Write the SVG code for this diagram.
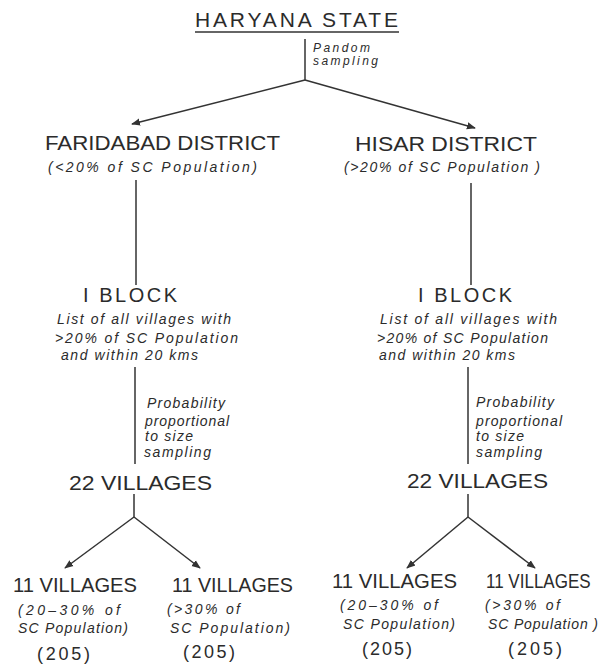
<svg xmlns="http://www.w3.org/2000/svg" width="610" height="666" viewBox="0 0 610 666">
<defs>
<marker id="ah" viewBox="0 0 10 10" refX="9" refY="5" markerWidth="9" markerHeight="9" markerUnits="userSpaceOnUse" orient="auto">
<path d="M0,1 L10,5 L0,9 Z" fill="#333"/>
</marker>
<style>
.t{font-family:"Liberation Sans","DejaVu Sans",sans-serif;fill:#2b2b2b;}
.h{font-size:21px;}
.s{font-size:14px;font-style:italic;}
.n{font-size:18px;}
.c{stroke:#333;stroke-width:1.5;fill:none;}
</style>
</defs>
<rect width="610" height="666" fill="#fff"/>
<g id="connectors">
<line class="c" x1="305" y1="39" x2="305" y2="80"/>
<line class="c" x1="305" y1="80" x2="132" y2="124" marker-end="url(#ah)"/>
<line class="c" x1="305" y1="80" x2="475" y2="128" marker-end="url(#ah)"/>
<line class="c" x1="136" y1="180" x2="136" y2="285"/>
<line class="c" x1="471" y1="183" x2="471" y2="285"/>
<line class="c" x1="135" y1="367" x2="135" y2="464"/>
<line class="c" x1="468" y1="367" x2="468" y2="464"/>
<line class="c" x1="134" y1="494" x2="134" y2="517"/>
<line class="c" x1="134" y1="517" x2="65" y2="568" marker-end="url(#ah)"/>
<line class="c" x1="134" y1="517" x2="200" y2="568" marker-end="url(#ah)"/>
<line class="c" x1="468" y1="494" x2="468" y2="517"/>
<line class="c" x1="468" y1="517" x2="407" y2="568" marker-end="url(#ah)"/>
<line class="c" x1="468" y1="517" x2="535" y2="568" marker-end="url(#ah)"/>
</g>
<g id="haryana">
<text class="t" x="195" y="27" font-size="21" textLength="203" lengthAdjust="spacing">HARYANA STATE</text>
<line x1="195" y1="32" x2="399" y2="32" stroke="#333" stroke-width="1.5"/>
</g>
<g id="random">
<text class="t" x="313" y="52" font-size="12" font-style="italic" textLength="57">Pandom</text>
<text class="t" x="313" y="65" font-size="12" font-style="italic" textLength="65">sampling</text>
</g>
<g id="faridabad">
<text class="t h" x="45" y="150" textLength="235" lengthAdjust="spacingAndGlyphs">FARIDABAD DISTRICT</text>
<text class="t s" x="48" y="172" textLength="209">(&lt;20% of SC Population)</text>
</g>
<g id="hisar">
<text class="t h" x="355" y="151" textLength="182" lengthAdjust="spacingAndGlyphs">HISAR DISTRICT</text>
<text class="t s" x="344" y="172" textLength="196">(&gt;20% of SC Population )</text>
</g>
<g id="block-left">
<text class="t" x="83" y="302" font-size="20" textLength="94" lengthAdjust="spacing">I BLOCK</text>
<text class="t s" x="57" y="324" textLength="174">List of all villages with</text>
<text class="t s" x="55" y="343" textLength="183">&gt;20% of SC Population</text>
<text class="t s" x="61" y="360" textLength="137">and within 20 kms</text>
</g>
<g id="block-right">
<text class="t" x="418" y="302" font-size="20" textLength="94" lengthAdjust="spacing">I BLOCK</text>
<text class="t s" x="380" y="324" textLength="177">List of all villages with</text>
<text class="t s" x="377" y="343" textLength="171">&gt;20% of SC Population</text>
<text class="t s" x="379" y="360" textLength="136">and within 20 kms</text>
</g>
<g id="pps-left">
<text class="t s" x="147" y="408" textLength="78">Probability</text>
<text class="t s" x="145" y="426" textLength="84">proportional</text>
<text class="t s" x="145" y="441" textLength="48">to size</text>
<text class="t s" x="144" y="457" textLength="67">sampling</text>
</g>
<g id="pps-right">
<text class="t s" x="476" y="407" textLength="78">Probability</text>
<text class="t s" x="476" y="426" textLength="86">proportional</text>
<text class="t s" x="476" y="441" textLength="48">to size</text>
<text class="t s" x="476" y="457" textLength="66">sampling</text>
</g>
<g id="villages22-left">
<text class="t h" x="69" y="490" textLength="143" lengthAdjust="spacingAndGlyphs">22 VILLAGES</text>
</g>
<g id="villages22-right">
<text class="t h" x="407" y="488" textLength="141" lengthAdjust="spacingAndGlyphs">22 VILLAGES</text>
</g>
<g id="v11-a">
<text class="t h" x="13" y="592" textLength="124" lengthAdjust="spacingAndGlyphs">11 VILLAGES</text>
<text class="t s" x="18" y="615" textLength="102">(20–30% of</text>
<text class="t s" x="18" y="633" textLength="110">SC Population)</text>
<text class="t n" x="37" y="660" textLength="53">(205)</text>
</g>
<g id="v11-b">
<text class="t h" x="172" y="592" textLength="121" lengthAdjust="spacingAndGlyphs">11 VILLAGES</text>
<text class="t s" x="167" y="614" textLength="73">(&gt;30% of</text>
<text class="t s" x="170" y="633" textLength="120">SC Population)</text>
<text class="t n" x="183" y="658" textLength="52">(205)</text>
</g>
<g id="v11-c">
<text class="t h" x="332" y="588" textLength="125" lengthAdjust="spacingAndGlyphs">11 VILLAGES</text>
<text class="t s" x="340" y="610" textLength="98">(20–30% of</text>
<text class="t s" x="343" y="629" textLength="112">SC Population)</text>
<text class="t n" x="362" y="655" textLength="50">(205)</text>
</g>
<g id="v11-d">
<text class="t h" transform="translate(486,588) scale(0.81,1)" x="0" y="0">11 VILLAGES</text>
<text class="t s" x="485" y="610" textLength="75">(&gt;30% of</text>
<text class="t s" x="488" y="629" textLength="110">SC Population )</text>
<text class="t n" x="508" y="655" textLength="54">(205)</text>
</g>
</svg>
